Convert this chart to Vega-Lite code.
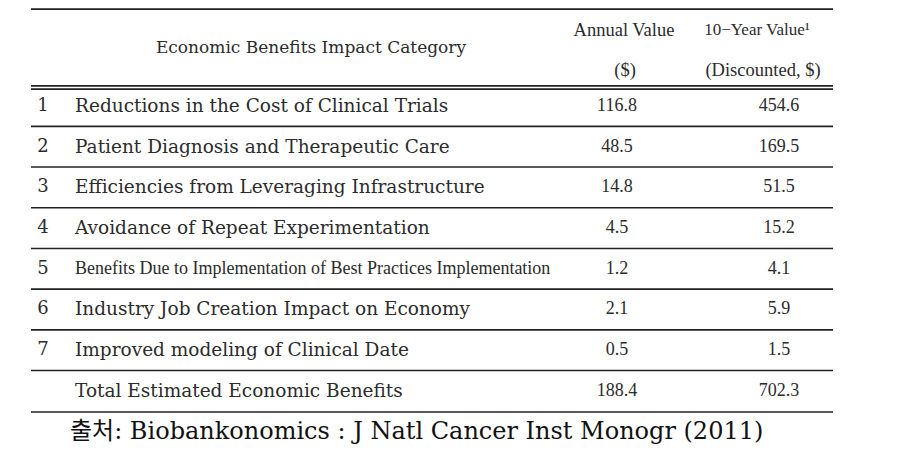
{
  "$schema": "https://vega.github.io/schema/vega-lite/v6.json",
  "width": 914,
  "height": 467,
  "autosize": {"type": "fit", "contains": "padding"},
  "padding": 0,
  "background": "white",
  "config": {"view": {"stroke": null}, "text": {"font": "Liberation Serif", "color": "#2b2b2b", "baseline": "middle"}},
  "datasets": {
    "rows": [
      {"row": 1, "rank": "1", "category": "Reductions in the Cost of Clinical Trials", "annual": 116.8, "tenyear": 454.6},
      {"row": 2, "rank": "2", "category": "Patient Diagnosis and Therapeutic Care", "annual": 48.5, "tenyear": 169.5},
      {"row": 3, "rank": "3", "category": "Efficiencies from Leveraging Infrastructure", "annual": 14.8, "tenyear": 51.5},
      {"row": 4, "rank": "4", "category": "Avoidance of Repeat Experimentation", "annual": 4.5, "tenyear": 15.2},
      {"row": 5, "rank": "5", "category": "Benefits Due to Implementation of Best Practices Implementation", "annual": 1.2, "tenyear": 4.1},
      {"row": 6, "rank": "6", "category": "Industry Job Creation Impact on Economy", "annual": 2.1, "tenyear": 5.9},
      {"row": 7, "rank": "7", "category": "Improved modeling of Clinical Date", "annual": 0.5, "tenyear": 1.5},
      {"row": 8, "rank": "", "category": "Total Estimated Economic Benefits", "annual": 188.4, "tenyear": 702.3}
    ],
    "headers": [
      {"key": "category", "label": "Economic Benefits Impact Category"},
      {"key": "annual1", "label": "Annual Value"},
      {"key": "annual2", "label": "($)"},
      {"key": "ten1", "label": "10−Year Value¹"},
      {"key": "ten2", "label": "(Discounted, $)"}
    ],
    "source": [
      {"label": "출처: Biobankonomics : J Natl Cancer Inst Monogr (2011)"}
    ],
    "lines": [
      {"y": -1.38}, {"y": 0.505}, {"y": 0.585},
      {"y": 1.5}, {"y": 2.5}, {"y": 3.5}, {"y": 4.5}, {"y": 5.5}, {"y": 6.5}, {"y": 7.5}, {"y": 8.52}
    ]
  },
  "layer": [
    {
      "data": {"name": "lines"},
      "mark": {"type": "rule", "strokeWidth": 1.6, "color": "#222222"},
      "encoding": {
        "x": {"datum": 31, "type": "quantitative", "scale": {"domain": [0, 914], "nice": false, "zero": false}, "axis": null},
        "x2": {"datum": 833},
        "y": {"field": "y", "type": "quantitative", "scale": {"domain": [-1.6044, 9.870], "nice": false, "zero": false, "reverse": true}, "axis": null}
      }
    },
    {
      "data": {"name": "rows"},
      "mark": {"type": "text", "align": "center", "fontSize": 18, "font": "DejaVu Serif"},
      "encoding": {
        "x": {"datum": 43, "type": "quantitative"},
        "y": {"field": "row", "type": "quantitative"},
        "text": {"field": "rank"}
      }
    },
    {
      "data": {"name": "rows"},
      "transform": [{"filter": "datum.row != 5"}],
      "mark": {"type": "text", "align": "left", "fontSize": 18.5, "font": "DejaVu Serif"},
      "encoding": {
        "x": {"datum": 75, "type": "quantitative"},
        "y": {"field": "row", "type": "quantitative"},
        "text": {"field": "category"}
      }
    },
    {
      "data": {"name": "rows"},
      "transform": [{"filter": "datum.row == 5"}],
      "mark": {"type": "text", "align": "left", "fontSize": 18},
      "encoding": {
        "x": {"datum": 75, "type": "quantitative"},
        "y": {"field": "row", "type": "quantitative"},
        "text": {"field": "category"}
      }
    },
    {
      "data": {"name": "rows"},
      "mark": {"type": "text", "align": "center", "fontSize": 18},
      "encoding": {
        "x": {"datum": 617, "type": "quantitative"},
        "y": {"field": "row", "type": "quantitative"},
        "text": {"field": "annual", "format": ".1f"}
      }
    },
    {
      "data": {"name": "rows"},
      "mark": {"type": "text", "align": "center", "fontSize": 18},
      "encoding": {
        "x": {"datum": 779, "type": "quantitative"},
        "y": {"field": "row", "type": "quantitative"},
        "text": {"field": "tenyear", "format": ".1f"}
      }
    },
    {
      "data": {"name": "headers"},
      "transform": [{"filter": "datum.key == 'category'"}],
      "mark": {"type": "text", "align": "center", "fontSize": 17, "font": "DejaVu Serif"},
      "encoding": {
        "x": {"datum": 311, "type": "quantitative"},
        "y": {"datum": -0.43, "type": "quantitative"},
        "text": {"field": "label"}
      }
    },
    {
      "data": {"name": "headers"},
      "transform": [{"filter": "datum.key == 'annual1'"}],
      "mark": {"type": "text", "align": "center", "fontSize": 18.5},
      "encoding": {
        "x": {"datum": 624, "type": "quantitative"},
        "y": {"datum": -0.87, "type": "quantitative"},
        "text": {"field": "label"}
      }
    },
    {
      "data": {"name": "headers"},
      "transform": [{"filter": "datum.key == 'annual2'"}],
      "mark": {"type": "text", "align": "center", "fontSize": 18.5},
      "encoding": {
        "x": {"datum": 625, "type": "quantitative"},
        "y": {"datum": 0.115, "type": "quantitative"},
        "text": {"field": "label"}
      }
    },
    {
      "data": {"name": "headers"},
      "transform": [{"filter": "datum.key == 'ten1'"}],
      "mark": {"type": "text", "align": "center", "fontSize": 17},
      "encoding": {
        "x": {"datum": 757, "type": "quantitative"},
        "y": {"datum": -0.87, "type": "quantitative"},
        "text": {"field": "label"}
      }
    },
    {
      "data": {"name": "headers"},
      "transform": [{"filter": "datum.key == 'ten2'"}],
      "mark": {"type": "text", "align": "center", "fontSize": 18.5},
      "encoding": {
        "x": {"datum": 763, "type": "quantitative"},
        "y": {"datum": 0.115, "type": "quantitative"},
        "text": {"field": "label"}
      }
    },
    {
      "data": {"name": "source"},
      "mark": {"type": "text", "align": "left", "fontSize": 24, "font": "'DejaVu Serif', 'Noto Sans CJK KR', serif", "color": "#111111"},
      "encoding": {
        "x": {"datum": 70, "type": "quantitative"},
        "y": {"datum": 9.0, "type": "quantitative"},
        "text": {"field": "label"}
      }
    }
  ]
}
